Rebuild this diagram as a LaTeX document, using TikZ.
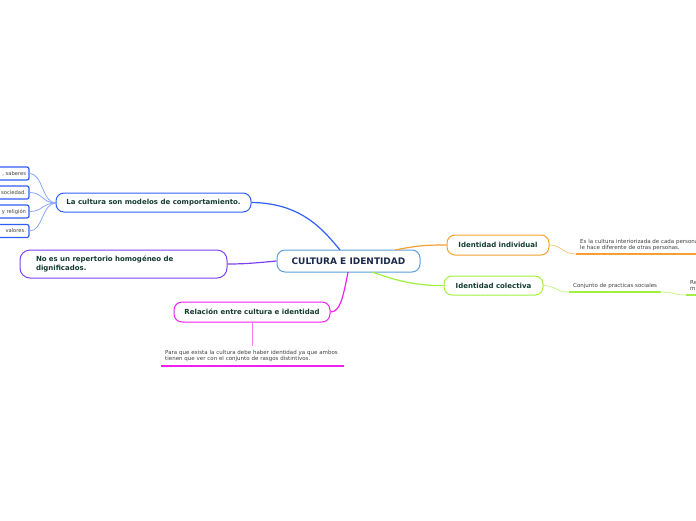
\documentclass[tikz,border=0pt]{standalone}
\usepackage{fontspec}
\setmainfont{DejaVu Sans}
\definecolor{cblue}{HTML}{2F5FF5}
\definecolor{clblue}{HTML}{8AA8F8}
\definecolor{ccent}{HTML}{5AA0DC}
\definecolor{cpurp}{HTML}{8040F0}
\definecolor{cmag}{HTML}{F020F0}
\definecolor{corange}{HTML}{F5A030}
\definecolor{cgreen}{HTML}{A0F040}
\definecolor{ctext}{HTML}{143C32}
\definecolor{cnavy}{HTML}{1B2A4A}
\definecolor{cgray}{HTML}{404040}
\tikzset{
  topic/.style={draw, fill=white, rounded corners=8pt, line width=1pt, font=\fontsize{7}{8.4}\selectfont\bfseries, text=ctext, inner sep=0pt},
  leafbox/.style={draw=cblue, fill=white, rounded corners=2pt, line width=1.2pt, minimum width=39pt, minimum height=13pt, text width=33pt, align=right, inner xsep=3pt, inner ysep=0pt, font=\fontsize{5.2}{6}\selectfont, text=cgray},
  leaftext/.style={inner sep=0pt, font=\fontsize{5.5}{6.4}\selectfont, text=cgray, align=left},
  conn/.style={line width=1.2pt},
  thin/.style={line width=0.8pt}
}
\begin{document}
\begin{tikzpicture}[x=1pt,y=-1pt]
\useasboundingbox (0,0) rectangle (696,520);
% central
\node[topic, draw=ccent, text=cnavy, font=\fontsize{9}{10}\selectfont\bfseries, minimum width=143pt, minimum height=22pt] (c) at (348.5,261) {CULTURA E IDENTIDAD};
% main topics
\node[topic, draw=cblue, minimum width=195pt, minimum height=19pt] (lc) at (153.5,202.5) {La cultura son modelos de comportamiento.};
\node[topic, draw=cpurp, minimum width=207pt, minimum height=28pt, text width=175pt, inner xsep=16pt, align=left, rounded corners=10pt] (ne) at (123.5,264) {No es un repertorio homogéneo de\\dignificados.};
\node[topic, draw=cmag, minimum width=156pt, minimum height=20pt] (rel) at (252,312) {Relación entre cultura e identidad};
\node[topic, draw=corange, minimum width=102pt, minimum height=20pt] (ii) at (498,245) {Identidad individual};
\node[topic, draw=cgreen, minimum width=99pt, minimum height=19pt] (ic) at (493.5,285.5) {Identidad colectiva};
% left leaves
\node[leafbox] (l1) at (9.5,173.5) {, saberes};
\node[leafbox] (l2) at (9.5,192.5) {sociedad.};
\node[leafbox] (l3) at (9.5,211.5) {y religión};
\node[leafbox] (l4) at (9.5,231) {valores.};
\coordinate (lcw) at (56,203);
\foreach \n/\yy in {l1/173.5,l2/192.5,l3/211.5,l4/231}{
  \draw[thin, clblue] (lcw) .. controls (42,203) and (43,\yy) .. (\n.east);
}
% main connectors
\coordinate (cb) at (340,250);
\draw[conn, cblue] (cb) .. controls (322,228) and (300,203) .. (lc.east);
\draw[conn, cpurp] (c.west) .. controls (255,263) and (245,264) .. (ne.east);
\coordinate (cm) at (348,272);
\draw[conn, cmag] (cm) .. controls (343,298) and (340,312) .. (rel.east);
\coordinate (co) at (395,250);
\draw[conn, corange] (co) .. controls (420,245) and (430,245) .. (ii.west);
\coordinate (cg) at (372,272);
\draw[conn, cgreen] (cg) .. controls (400,282) and (420,286) .. (ic.west);
% relacion child
\node[leaftext, anchor=north west, text width=185pt] (relt) at (165,350) {Para que exista la cultura debe haber identidad ya que ambos\\tienen que ver con el conjunto de rasgos distintivos.};
\coordinate (relu1) at (161,366);
\coordinate (relu2) at (344,366);
\coordinate (relv) at (252,346);
\draw[conn, cmag] (relu1) -- (relu2);
\draw[thin, cmag!60] (rel.south) -- (relv);
% individual child
\node[leaftext, anchor=north west] (iit) at (580,239) {Es la cultura interiorizada de cada persona\\le hace diferente de otras personas.};
\coordinate (iiu1) at (576,254);
\coordinate (iiu2) at (700,254);
\draw[thin, corange!60] (ii.east) .. controls (562,245) and (562,254) .. (iiu1);
\draw[conn, corange] (iiu1) -- (iiu2);
% colectiva child
\node[leaftext, anchor=west] (ict) at (573,286) {Conjunto de practicas sociales};
\coordinate (icu1) at (569,292);
\coordinate (icu2) at (661,292);
\draw[thin, cgreen!60] (ic.east) .. controls (556,286) and (556,292) .. (icu1);
\draw[conn, cgreen] (icu1) -- (icu2);
\node[leaftext, anchor=north west] (ic2t) at (690,280) {Re\\m};
\coordinate (ic2u1) at (686,295);
\coordinate (ic2u2) at (700,295);
\draw[thin, cgreen!60] (icu2) .. controls (674,292) and (674,295) .. (ic2u1);
\draw[conn, cgreen] (ic2u1) -- (ic2u2);
\end{tikzpicture}
\end{document}
